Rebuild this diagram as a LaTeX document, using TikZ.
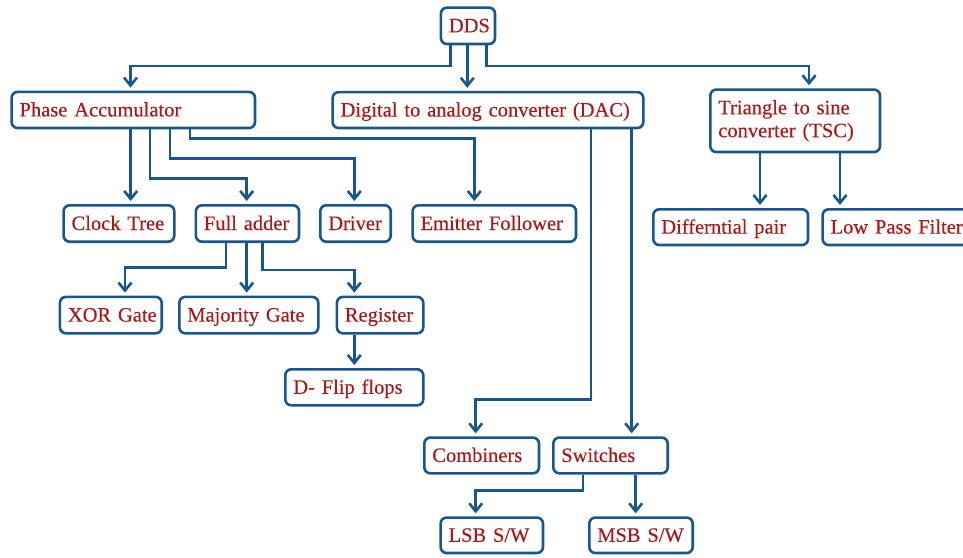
\documentclass[tikz,border=0pt]{standalone}
\usepackage{fontspec}
\setmainfont{Liberation Serif}[FakeBold=0.3,WordSpace=0.7]
\usetikzlibrary{arrows.meta}
\definecolor{lnblue}{RGB}{24,86,145}
\definecolor{txred}{RGB}{170,24,24}
\tikzset{
  box/.style 2 args={draw=lnblue, line width=2.6pt, rounded corners=6pt, fill=white,
    text=txred, font=\fontsize{20.5}{23}\selectfont, anchor=north west, align=left,
    inner xsep=8pt, inner ysep=0pt, text width=#1, minimum height=#2},
  bx/.style 2 args={box={#1}{#2}, text height=16pt, text depth=3pt},
  ln/.style={draw=lnblue, line width=2.6pt, -{Straight Barb[length=8pt,width=13pt]}, shorten >=3pt},
}
\begin{document}
\begin{tikzpicture}[x=1pt,y=-1pt]
\useasboundingbox (0,0) rectangle (963,557);
% nodes
\node[bx={38.1pt}{36.4pt}] (dds) at (439.6,6.3) {\mbox{DDS}};
\node[bx={227.4pt}{36.1pt}] (pa) at (10.3,90.6) {\mbox{Phase Accumulator}};
\node[bx={294.7pt}{35.9pt}] (dac) at (331.3,90.8) {\mbox{Digital to analog converter (DAC)}};
\node[box={153.7pt}{62.4pt}] (tsc) at (709,88.3) {Triangle to sine\\converter (TSC)};
\node[bx={94.7pt}{36.4pt}] (ct) at (62.3,204) {\mbox{Clock Tree}};
\node[bx={87.1pt}{36.4pt}] (fa) at (194.6,204) {\mbox{Full adder}};
\node[bx={54.4pt}{36.4pt}] (dr) at (319,204) {\mbox{Driver}};
\node[bx={147.4pt}{36.4pt}] (ef) at (411.3,204) {\mbox{Emitter Follower}};
\node[bx={138.7pt}{35.7pt}] (dp) at (652,208) {\mbox{Differntial pair}};
\node[bx={134pt}{35.7pt}] (lp) at (821.3,208) {\mbox{Low Pass Filter}};
\node[bx={85.8pt}{36.4pt}] (xor) at (58.6,295.6) {\mbox{XOR Gate}};
\node[bx={123pt}{36.4pt}] (mg) at (178,295.6) {\mbox{Majority Gate}};
\node[bx={70.4pt}{36.4pt}] (reg) at (335.6,295.6) {\mbox{Register}};
\node[bx={122pt}{36pt}] (dff) at (284,368) {\mbox{D- Flip flops}};
\node[bx={98.7pt}{35.7pt}] (comb) at (423,436.3) {\mbox{Combiners}};
\node[bx={98.4pt}{35.7pt}] (sw) at (552,436.3) {\mbox{Switches}};
\node[bx={86.4pt}{35.4pt}] (lsb) at (439.3,516.3) {\mbox{LSB S/W}};
\node[bx={87.4pt}{35.4pt}] (msb) at (588,516.3) {\mbox{MSB S/W}};
% connectors
\draw[ln] (450.7,0 |- dds.south) |- (130.5,66) -- (130.5,0 |- pa.north);
\draw[ln] (467.3,0 |- dds.south) -- (467.3,0 |- dac.north);
\draw[ln] (486.7,0 |- dds.south) |- (809,66) -- (809,0 |- tsc.north);
\draw[ln] (130.7,0 |- pa.south) -- (130.7,0 |- ct.north);
\draw[ln] (150,0 |- pa.south) |- (246.7,178.3) -- (246.7,0 |- fa.north);
\draw[ln] (170,0 |- pa.south) |- (354.3,158.3) -- (354.3,0 |- dr.north);
\draw[ln] (190,0 |- pa.south) |- (474.3,138.3) -- (474.3,0 |- ef.north);
\draw[ln] (226,0 |- fa.south) |- (125,267.7) -- (125,0 |- xor.north);
\draw[ln] (246.7,0 |- fa.south) -- (246.7,0 |- mg.north);
\draw[ln] (262.3,0 |- fa.south) |- (354.3,270) -- (354.3,0 |- reg.north);
\draw[ln] (354.3,0 |- reg.south) -- (354.3,0 |- dff.north);
\draw[ln] (591,0 |- dac.south) |- (475.7,399.3) -- (475.7,0 |- comb.north);
\draw[ln] (631.7,0 |- dac.south) -- (631.7,0 |- sw.north);
\draw[ln] (583,0 |- sw.south) |- (475.7,490.7) -- (475.7,0 |- lsb.north);
\draw[ln] (635.7,0 |- sw.south) -- (635.7,0 |- msb.north);
\draw[ln] (760,0 |- tsc.south) -- (760,0 |- dp.north);
\draw[ln] (840,0 |- tsc.south) -- (840,0 |- lp.north);
\end{tikzpicture}
\end{document}
